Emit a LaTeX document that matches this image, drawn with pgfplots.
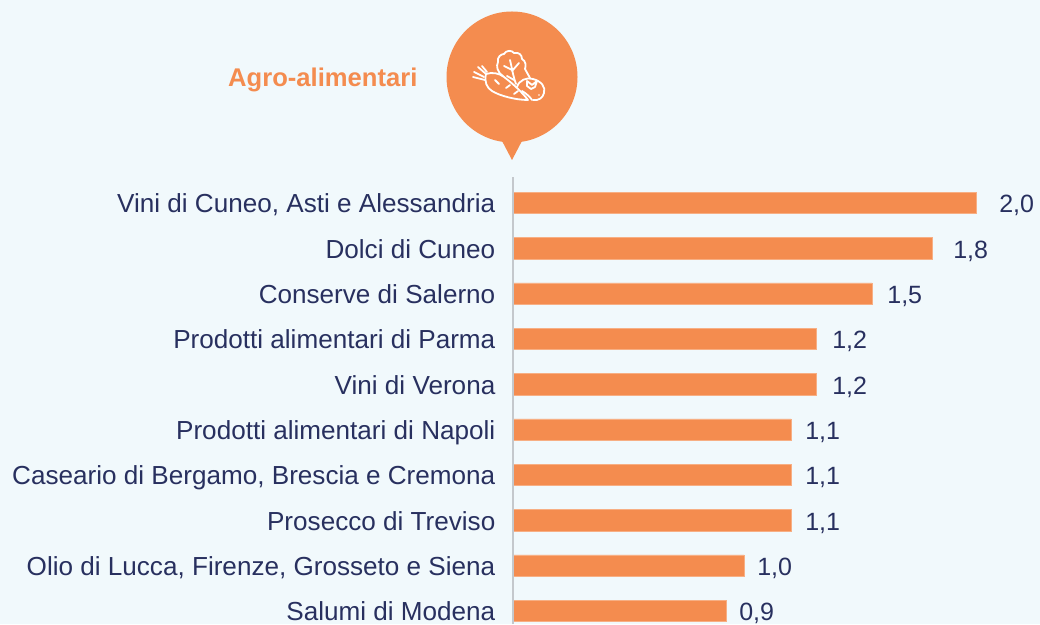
\documentclass[border=0pt]{standalone}
\usepackage{fontspec}
\setmainfont{Liberation Sans}
\usepackage{pgfplots}
\usepackage{pgfplotstable}
\pgfplotsset{compat=1.18}

\definecolor{bg}{HTML}{F1F9FC}
\definecolor{arancio}{HTML}{F48C4F}
\definecolor{navy}{HTML}{28305F}
\definecolor{asse}{HTML}{C4C8CC}

% len = bar length, label = the printed value, gap = space before the label
\pgfplotstableread{
idx len label gap
0 2.000 2,0 23
1 1.810 1,8 21
2 1.551 1,5 15
3 1.309 1,2 16
4 1.309 1,2 16
5 1.201 1,1 14
6 1.201 1,1 14
7 1.201 1,1 14
8 0.998 1,0 13
9 0.920 0,9 13
}\agro

\begin{document}
\begin{tikzpicture}[x=1pt,y=1pt]
\useasboundingbox (0,0) rectangle (1040,624);
\clip (0,0) rectangle (1040,624);
\fill[bg] (0,0) rectangle (1040,624);

\begin{axis}[
    at={(513pt,0pt)}, anchor=south west,
    scale only axis,
    width=527pt, height=446pt,
    xbar, bar width=21.5pt, bar shift=0pt,
    xmin=0, xmax=2.2765,
    ymin=-0.55, ymax=9.287,
    y dir=reverse,
    axis line style={draw=none},
    axis x line=none,
    axis y line*=left,
    ytick={0,...,9},
    yticklabels={{Vini di Cuneo, Asti e Alessandria},Dolci di Cuneo,Conserve di Salerno,Prodotti alimentari di Parma,Vini di Verona,Prodotti alimentari di Napoli,{Caseario di Bergamo, Brescia e Cremona},Prosecco di Treviso,{Olio di Lucca, Firenze, Grosseto e Siena},Salumi di Modena},
    major tick length=0pt,
    y tick label style={font=\fontsize{26.1}{30}\selectfont, text=navy, anchor=east, xshift=-17.5pt, yshift=-3.5pt, text height=19pt, text depth=6pt, inner xsep=0pt},
    clip=false,
]
\addplot[fill=arancio, draw=arancio!70!white, line width=0.6pt,
    point meta=explicit symbolic,
    visualization depends on={\thisrow{gap} \as \gap},
    nodes near coords={\pgfplotspointmeta},
    nodes near coords style={font=\fontsize{25}{30}\selectfont, text=navy, anchor=west, inner xsep=0pt, xshift=\gap pt, yshift=-3.5pt, text height=19pt, text depth=6pt},
] table[x=len, y=idx, meta=label] {\agro};
\end{axis}

\draw[asse, line width=1.6pt] (513,0) -- (513,447);

\begin{scope}[shift={(0,624)},yscale=-1]
  \node[anchor=west, inner sep=0pt, text=arancio, font=\bfseries\fontsize{25.6}{28}\selectfont] at (228,80) {Agro-alimentari};
  \fill[arancio] (512,77) circle (65.5);
  \fill[arancio] (501,139) -- (512,160) -- (523,139) -- cycle;
  % icon
  \begin{scope}[draw=white, line width=1.8pt, line cap=round, line join=round]
    % lettuce
    \draw (503,76) .. controls (497,72) and (496,66) .. (498,62)
      .. controls (497,57) and (501,54) .. (504,54)
      .. controls (506,50) and (512,50) .. (514,53)
      .. controls (519,52) and (522,55) .. (522,59)
      .. controls (526,61) and (526,66) .. (525,69)
      .. controls (527,72) and (528,75) .. (530,78);
    \draw (510,60) .. controls (512,68) and (513,76) .. (516,84);
    \draw (504,66) -- (512,70);
    \draw (519,63) -- (512,71);
    \draw (507,76) -- (514,80);
    % carrot
    \draw (486,74) .. controls (492,72) and (499,73) .. (504,77)
      .. controls (512,83) and (522,92) .. (528,100)
      .. controls (516,100) and (500,96) .. (492,91)
      .. controls (487,88) and (484,82) .. (486,74);
    \draw (486,74) -- (478,67) (484,77) -- (474,72) (485,80) -- (473,77) (487,72) -- (482,66);
    \draw (495,80) -- (499,84) (506,88) -- (510,85) (514,94) -- (518,91);
    % tomato
    \draw (517,87) .. controls (519,80) and (527,77) .. (533,79)
      .. controls (541,81) and (546,87) .. (544,93)
      .. controls (543,98) and (538,101) .. (533,100);
    \draw (522,91) .. controls (527,94) and (530,97) .. (532,100);
    \draw (527,81) -- (532,85) -- (537,81) -- (535,87) -- (531,89) -- (527,86) -- cycle;
    \fill[white] (539,95) circle (0.9);
  \end{scope}
\end{scope}
\end{tikzpicture}
\end{document}
